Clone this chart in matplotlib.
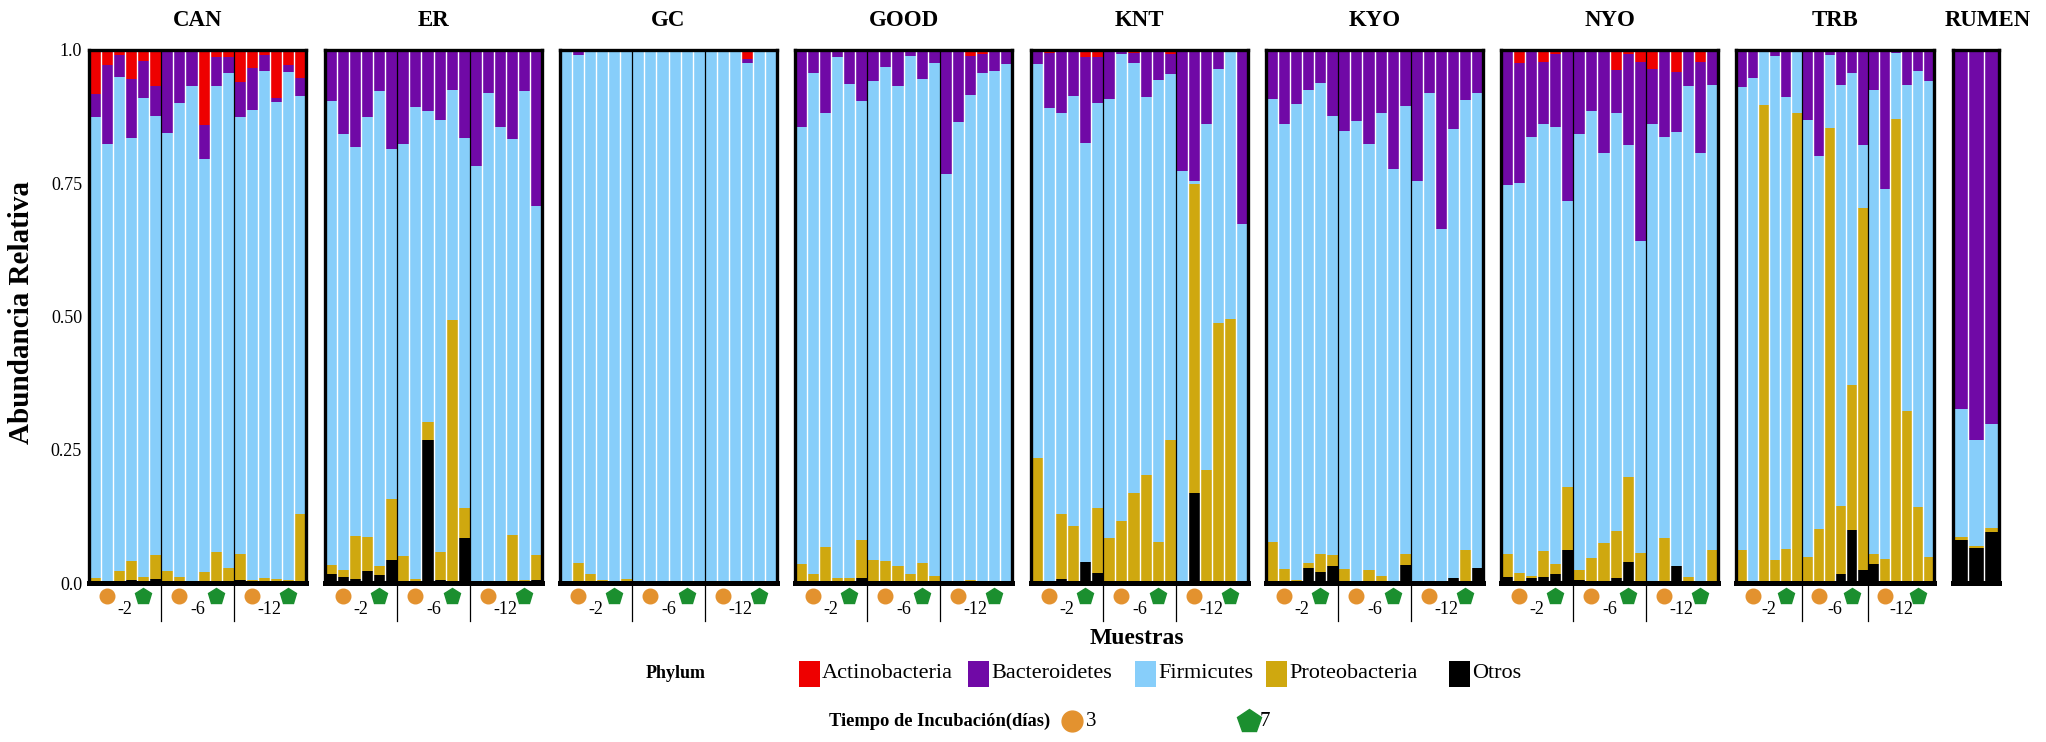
import matplotlib
matplotlib.use("Agg")
import matplotlib.pyplot as plt
import matplotlib.transforms as mtransforms
from matplotlib.patches import Rectangle
from matplotlib.lines import Line2D
import numpy as np

# ---------------------------------------------------------------------------
# Datos: abundancia relativa por phylum, 18 muestras por sitio
# (3 profundidades x 2 tiempos de incubación x 3 réplicas)
# ---------------------------------------------------------------------------
SITIOS = ["CAN", "ER", "GC", "GOOD", "KNT", "KYO", "NYO", "TRB"]
GRUPOS = ["-2", "-6", "-12"]
TIEMPOS = ["3", "7"]

ACTINOBACTERIA = [
    [0.083, 0.028, 0.009, 0.054, 0.020, 0.068, 0, 0, 0, 0.140, 0.014, 0.014, 0.060, 0.034, 0.010, 0.090, 0.028, 0.053],
    [0] * 18,
    [0, 0, 0, 0, 0, 0, 0, 0, 0, 0, 0, 0, 0, 0, 0, 0.017, 0, 0],
    [0, 0, 0, 0, 0, 0, 0, 0, 0, 0, 0, 0, 0, 0, 0.012, 0.007, 0, 0],
    [0, 0.006, 0, 0, 0.014, 0.014, 0, 0, 0.005, 0, 0, 0.008, 0, 0, 0, 0, 0, 0],
    [0] * 18,
    [0, 0.024, 0, 0.022, 0.007, 0, 0, 0, 0, 0.038, 0.007, 0.022, 0.036, 0, 0.042, 0, 0.022, 0],
    [0] * 18,
]
BACTEROIDETES = [
    [0.042, 0.148, 0.041, 0.111, 0.070, 0.055, 0.155, 0.099, 0.068, 0.064, 0.054, 0.029, 0.065, 0.078, 0.029, 0.008, 0.013, 0.033],
    [0.096, 0.158, 0.182, 0.126, 0.077, 0.186, 0.177, 0.107, 0.115, 0.132, 0.075, 0.165, 0.218, 0.080, 0.144, 0.167, 0.077, 0.292],
    [0, 0.010, 0, 0, 0, 0, 0, 0, 0, 0, 0, 0, 0, 0, 0, 0.008, 0, 0],
    [0.145, 0.044, 0.118, 0.014, 0.064, 0.095, 0.059, 0.032, 0.068, 0.011, 0.055, 0.025, 0.233, 0.136, 0.072, 0.036, 0.039, 0.027],
    [0.026, 0.103, 0.118, 0.086, 0.161, 0.085, 0.092, 0.008, 0.019, 0.088, 0.056, 0.037, 0.227, 0.246, 0.139, 0.036, 0, 0.327],
    [0.091, 0.138, 0.101, 0.075, 0.062, 0.124, 0.152, 0.133, 0.176, 0.119, 0.224, 0.106, 0.246, 0.080, 0.336, 0.149, 0.093, 0.081],
    [0.254, 0.225, 0.163, 0.116, 0.137, 0.284, 0.157, 0.114, 0.193, 0.081, 0.171, 0.336, 0.103, 0.163, 0.111, 0.068, 0.171, 0.065],
    [0.069, 0.053, 0, 0.011, 0.089, 0, 0.132, 0.198, 0.009, 0.066, 0.043, 0.178, 0.075, 0.261, 0.005, 0.066, 0.040, 0.058],
]
FIRMICUTES = [
    [0.866, 0.820, 0.928, 0.794, 0.899, 0.824, 0.822, 0.890, 0.928, 0.775, 0.873, 0.928, 0.821, 0.883, 0.952, 0.894, 0.953, 0.785],
    [0.870, 0.817, 0.730, 0.788, 0.891, 0.656, 0.772, 0.886, 0.582, 0.810, 0.431, 0.694, 0.779, 0.917, 0.853, 0.743, 0.917, 0.655],
    [1.0, 0.952, 0.984, 0.995, 1.0, 0.993, 1.0, 1.0, 1.0, 1.0, 1.0, 1.0, 1.0, 1.0, 1.0, 0.975, 1.0, 1.0],
    [0.819, 0.940, 0.815, 0.976, 0.927, 0.825, 0.898, 0.926, 0.900, 0.973, 0.908, 0.961, 0.767, 0.864, 0.910, 0.953, 0.961, 0.973],
    [0.739, 0.891, 0.752, 0.807, 0.786, 0.760, 0.823, 0.875, 0.807, 0.709, 0.867, 0.687, 0.773, 0.006, 0.649, 0.477, 0.504, 0.673],
    [0.832, 0.835, 0.894, 0.888, 0.883, 0.823, 0.821, 0.867, 0.800, 0.867, 0.776, 0.839, 0.754, 0.920, 0.664, 0.842, 0.845, 0.891],
    [0.691, 0.732, 0.823, 0.802, 0.821, 0.536, 0.819, 0.840, 0.732, 0.783, 0.623, 0.585, 0.861, 0.753, 0.815, 0.920, 0.803, 0.873],
    [0.869, 0.947, 0.103, 0.946, 0.847, 0.118, 0.819, 0.700, 0.138, 0.790, 0.585, 0.119, 0.870, 0.694, 0.124, 0.611, 0.817, 0.893],
]
PROTEOBACTERIA = [
    [0.005, 0, 0.018, 0.035, 0.007, 0.046, 0.019, 0.008, 0.001, 0.018, 0.056, 0.026, 0.048, 0.003, 0.006, 0.005, 0.004, 0.127],
    [0.017, 0.014, 0.080, 0.064, 0.017, 0.114, 0.047, 0.004, 0.035, 0.052, 0.493, 0.056, 0, 0, 0, 0.087, 0.003, 0.047],
    [0, 0.038, 0.016, 0.005, 0, 0.007, 0, 0, 0, 0, 0, 0, 0, 0, 0, 0, 0, 0],
    [0.036, 0.016, 0.067, 0.010, 0.009, 0.070, 0.043, 0.042, 0.032, 0.016, 0.037, 0.014, 0, 0, 0.006, 0.004, 0, 0],
    [0.231, 0, 0.123, 0.107, 0, 0.122, 0.085, 0.117, 0.169, 0.201, 0.077, 0.264, 0, 0.579, 0.212, 0.483, 0.496, 0],
    [0.077, 0.027, 0.005, 0.008, 0.034, 0.021, 0.027, 0, 0.024, 0.014, 0, 0.021, 0, 0, 0, 0, 0.062, 0],
    [0.044, 0.015, 0.005, 0.049, 0.018, 0.119, 0.019, 0.043, 0.075, 0.089, 0.160, 0.057, 0, 0.084, 0, 0.012, 0, 0.062],
    [0.062, 0, 0.897, 0.041, 0.062, 0.882, 0.049, 0.102, 0.853, 0.127, 0.273, 0.678, 0.019, 0.045, 0.871, 0.323, 0.143, 0.049],
]
OTROS = [
    [0.004, 0.004, 0.004, 0.006, 0.004, 0.007, 0.004, 0.003, 0.003, 0.003, 0.003, 0.003, 0.006, 0.002, 0.003, 0.003, 0.002, 0.002],
    [0.017, 0.011, 0.008, 0.022, 0.015, 0.044, 0.004, 0.003, 0.268, 0.006, 0.001, 0.085, 0.003, 0.003, 0.003, 0.003, 0.003, 0.006],
    [0] * 18,
    [0, 0, 0, 0, 0, 0.010, 0, 0, 0, 0, 0, 0, 0, 0, 0, 0, 0, 0],
    [0.004, 0, 0.007, 0, 0.039, 0.019, 0, 0, 0, 0.002, 0, 0.004, 0, 0.169, 0, 0.004, 0, 0],
    [0, 0, 0, 0.029, 0.021, 0.032, 0, 0, 0, 0, 0, 0.034, 0, 0, 0, 0.009, 0, 0.028],
    [0.011, 0.004, 0.009, 0.011, 0.017, 0.061, 0.005, 0.003, 0, 0.009, 0.039, 0, 0, 0, 0.032, 0, 0.004, 0],
    [0, 0, 0, 0.002, 0.002, 0, 0, 0, 0, 0.017, 0.099, 0.025, 0.036, 0, 0, 0, 0, 0],
]

# Inóculo de rumen (3 réplicas)
RUMEN_ACTINOBACTERIA = [0, 0, 0]
RUMEN_BACTEROIDETES = [0.674, 0.732, 0.701]
RUMEN_FIRMICUTES = [0.240, 0.198, 0.195]
RUMEN_PROTEOBACTERIA = [0.005, 0.005, 0.008]
RUMEN_OTROS = [0.081, 0.065, 0.096]

# ---------------------------------------------------------------------------
# Estilo
# ---------------------------------------------------------------------------
plt.rcParams["font.family"] = ["Liberation Serif", "DejaVu Serif"]

COLORES = {
    "Actinobacteria": "#ee0000",
    "Bacteroidetes": "#7009a6",
    "Firmicutes": "#87cefa",
    "Proteobacteria": "#cfa80f",
    "Otros": "#000000",
}
ORDEN_PILA = ["Otros", "Proteobacteria", "Firmicutes", "Bacteroidetes", "Actinobacteria"]
ORDEN_LEYENDA = ["Actinobacteria", "Bacteroidetes", "Firmicutes", "Proteobacteria", "Otros"]
COLOR_3D = "#e3922f"
COLOR_7D = "#1b8f2f"

ANCHO, ALTO = 2046, 742
Y_SUP, Y_INF = 50, 583           # borde superior / inferior de los paneles (px)
X_PANELES = [89, 325, 560, 795, 1031, 1266, 1501, 1736, 1953]
W_PANELES = [217] * 7 + [198, 46]
ALTO_PANEL = Y_INF - Y_SUP


def _rect(x, w):
    return [x / ANCHO, 1 - Y_INF / ALTO, w / ANCHO, ALTO_PANEL / ALTO]


def _py(px):
    """Distancia en píxeles bajo el panel -> coordenada de ejes."""
    return -px / ALTO_PANEL


def dibujar_panel(ax, capas, titulo, con_grupos=True, dx_titulo=0):
    n = len(capas["Otros"])
    x = np.arange(n)
    base = np.zeros(n)
    for phylum in ORDEN_PILA:
        v = np.asarray(capas[phylum], dtype=float)
        ax.bar(x, v, bottom=base, width=1.0, color=COLORES[phylum], linewidth=0)
        base += v

    mezcla = mtransforms.blended_transform_factory(ax.transData, ax.transAxes)
    for i in range(1, n):
        if con_grupos and i % 6 == 0:
            continue
        ax.axvline(i - 0.5, color="white", linewidth=1.0, zorder=3)

    if con_grupos:
        for g, etiqueta in enumerate(GRUPOS):
            ini = g * 6
            if g > 0:
                ax.plot([ini - 0.5, ini - 0.5], [_py(38), 1], color="black",
                        linewidth=0.9, transform=mezcla, clip_on=False, zorder=4)
            ax.plot(ini + 1, _py(13), marker="o", markersize=10.5, color=COLOR_3D,
                    transform=mezcla, clip_on=False, linestyle="none")
            ax.plot(ini + 4, _py(13), marker="p", markersize=12, color=COLOR_7D,
                    transform=mezcla, clip_on=False, linestyle="none")
            ax.text(ini + 2.5, _py(26), etiqueta, transform=mezcla, ha="center",
                    va="center", fontsize=13)

    ax.set_xlim(-0.5, n - 0.5)
    ax.set_ylim(0, 1)
    ax.set_xticks([])
    ax.set_yticks([])
    for lado in ("top", "left", "right"):
        ax.spines[lado].set_linewidth(2.4)
    ax.spines["bottom"].set_linewidth(3.6)
    for s in ax.spines.values():
        s.set_zorder(5)
    ax.text(0.5 + dx_titulo / ax.get_position().width / ANCHO, 1 + 30 / ALTO_PANEL,
            titulo, transform=ax.transAxes, ha="center", va="center",
            fontsize=16.5, fontweight="bold")


fig = plt.figure(figsize=(ANCHO / 100, ALTO / 100), dpi=100, facecolor="white")

for k, sitio in enumerate(SITIOS):
    ax = fig.add_axes(_rect(X_PANELES[k], W_PANELES[k]))
    capas = {
        "Actinobacteria": ACTINOBACTERIA[k],
        "Bacteroidetes": BACTEROIDETES[k],
        "Firmicutes": FIRMICUTES[k],
        "Proteobacteria": PROTEOBACTERIA[k],
        "Otros": OTROS[k],
    }
    dibujar_panel(ax, capas, sitio)
    if k == 0:
        ax.set_yticks([0, 0.25, 0.5, 0.75, 1.0])
        ax.set_yticklabels(["0.0", "0.25", "0.50", "0.75", "1.0"], fontsize=13)
        ax.tick_params(axis="y", length=0, pad=5)

ax_r = fig.add_axes(_rect(X_PANELES[-1], W_PANELES[-1]))
dibujar_panel(ax_r, {
    "Actinobacteria": RUMEN_ACTINOBACTERIA,
    "Bacteroidetes": RUMEN_BACTEROIDETES,
    "Firmicutes": RUMEN_FIRMICUTES,
    "Proteobacteria": RUMEN_PROTEOBACTERIA,
    "Otros": RUMEN_OTROS,
}, "RUMEN", con_grupos=False, dx_titulo=12)

# Títulos de ejes
fig.text(22 / ANCHO, 1 - 312 / ALTO, "Abundancia Relativa", rotation=90,
         ha="center", va="center", fontsize=21, fontweight="bold")
fig.text(1137 / ANCHO, 1 - 639 / ALTO, "Muestras", ha="center", va="center",
         fontsize=17, fontweight="bold")

# Leyenda de phylum
y_ley = 1 - 674 / ALTO
fig.text(646 / ANCHO, y_ley, "Phylum", ha="left", va="center",
         fontsize=13, fontweight="bold")
x_claves = [799, 968, 1135, 1266, 1449]
for x0, phylum in zip(x_claves, ORDEN_LEYENDA):
    fig.patches.append(Rectangle((x0 / ANCHO, y_ley - 13 / ALTO), 21 / ANCHO, 26 / ALTO,
                                 transform=fig.transFigure, facecolor=COLORES[phylum],
                                 edgecolor="none"))
    fig.text((x0 + 23) / ANCHO, y_ley, phylum, ha="left", va="center", fontsize=16)

# Leyenda de tiempo de incubación
y_t = 1 - 721 / ALTO
fig.text(829 / ANCHO, y_t, "Tiempo de Incubación(días)", ha="left", va="center",
         fontsize=13.3, fontweight="bold")
fig.add_artist(Line2D([1072 / ANCHO], [y_t], marker="o", markersize=15,
                      color=COLOR_3D, transform=fig.transFigure))
fig.text(1086 / ANCHO, y_t, TIEMPOS[0], ha="left", va="center", fontsize=15)
fig.add_artist(Line2D([1249 / ANCHO], [y_t], marker="p", markersize=18,
                      color=COLOR_7D, transform=fig.transFigure))
fig.text(1260 / ANCHO, y_t, TIEMPOS[1], ha="left", va="center", fontsize=15)

fig.savefig("out.png", dpi=100, facecolor="white")
